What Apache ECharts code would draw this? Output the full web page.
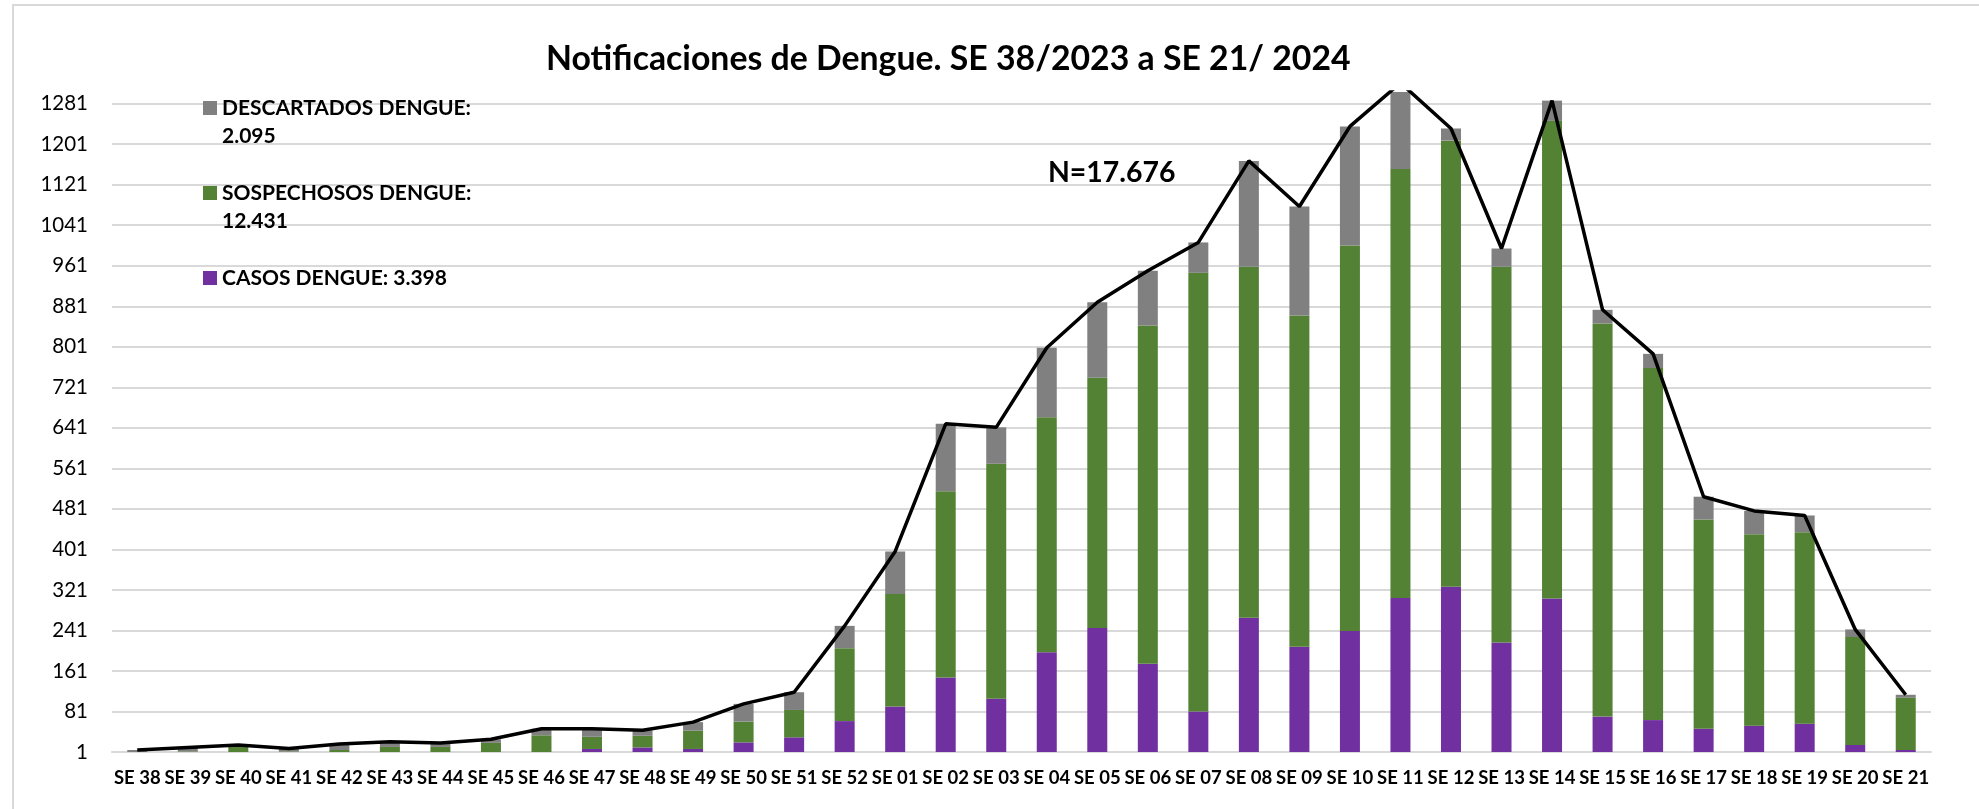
<!DOCTYPE html>
<html>
<head>
<meta charset="utf-8">
<script src="https://cdn.jsdelivr.net/npm/echarts@6/dist/echarts.min.js"></script>
<style>html,body{margin:0;padding:0;background:#fff}#c{width:1979px;height:809px}</style>
</head>
<body>
<div id="c"></div>
<script>
// ---- data ----
const categories = ['SE 38','SE 39','SE 40','SE 41','SE 42','SE 43','SE 44','SE 45','SE 46','SE 47','SE 48','SE 49','SE 50','SE 51','SE 52',
  'SE 01','SE 02','SE 03','SE 04','SE 05','SE 06','SE 07','SE 08','SE 09','SE 10','SE 11','SE 12','SE 13','SE 14','SE 15','SE 16','SE 17','SE 18','SE 19','SE 20','SE 21'];
const casos = [0,0,0,0,0,0,0,0,0,7,10,7,20,30,62,
  91,148,106,198,246,175,81,266,209,240,305,327,217,304,71,64,47,53,57,15,5];
const sospechosos = [1,2,11,2,5,11,11,19,34,24,23,36,41,54,144,
  222,368,464,464,494,668,866,693,654,761,847,881,742,943,776,695,413,378,378,213,103];
const descartados = [4,8,4,6,12,10,8,7,13,16,11,17,35,35,44,
  84,133,72,137,149,108,60,209,215,235,170,24,36,40,27,28,45,46,33,15,6];
const seriesNames = ['CASOS DENGUE','SOSPECHOSOS DENGUE','DESCARTADOS DENGUE'];
const legendTotals = {'CASOS DENGUE':'3.398','SOSPECHOSOS DENGUE':'12.431','DESCARTADOS DENGUE':'2.095'};
const titleText = 'Notificaciones de Dengue. SE 38/2023 a SE 21/ 2024';
const noteText = 'N=17.676';
const yMin = 1, yStep = 80, yMax = 1304;

const totals = categories.map((c, i) => casos[i] + sospechosos[i] + descartados[i]);

const FONT = 'Lato';
const chart = echarts.init(document.getElementById('c'), null, {renderer: 'canvas'});
chart.setOption({
  animation: false,
  backgroundColor: '#ffffff',
  title: [
    {text: titleText, left: 546, top: 42, padding: 0,
     textStyle: {fontFamily: FONT, fontWeight: 'bold', fontSize: 33.8, color: '#000'}},
    {text: noteText, left: 1048, top: 159, padding: 0,
     textStyle: {fontFamily: FONT, fontWeight: 'bold', fontSize: 28.4, color: '#000'}}
  ],
  legend: {
    data: ['DESCARTADOS DENGUE', 'SOSPECHOSOS DENGUE', 'CASOS DENGUE'],
    orient: 'vertical', left: 203, top: 66, padding: 0,
    itemWidth: 14, itemHeight: 14, itemGap: 1, icon: 'rect',
    selectedMode: false,
    formatter: function (name) {
      if (name === 'CASOS DENGUE') return ' \n' + name + ': ' + legendTotals[name] + '\n ';
      return ' \n' + name + ':\n' + legendTotals[name];
    },
    textStyle: {fontFamily: FONT, fontWeight: 'bold', fontSize: 21, lineHeight: 28, color: '#000'}
  },
  grid: {left: 112, right: 48, top: 92, bottom: 57},
  xAxis: {
    type: 'category', data: categories,
    axisTick: {show: false},
    axisLine: {lineStyle: {color: '#d9d9d9', width: 2}},
    axisLabel: {interval: 0, margin: 17, fontFamily: FONT, fontWeight: 'bold', fontSize: 18.5, color: '#000'}
  },
  yAxis: {
    type: 'value', min: yMin, max: yMax, interval: yStep,
    axisLine: {show: false}, axisTick: {show: false},
    axisLabel: {showMaxLabel: false, margin: 24, fontFamily: FONT, fontSize: 20.5, color: '#000',
      formatter: function (v) { return String(v); }},
    splitLine: {showMaxLine: false, lineStyle: {color: '#d9d9d9', width: 2}}
  },
  series: [
    {name: seriesNames[0], type: 'bar', stack: 'total', data: casos, barWidth: 20,
     itemStyle: {color: '#7030A0'}},
    {name: seriesNames[1], type: 'bar', stack: 'total', data: sospechosos, barWidth: 20,
     itemStyle: {color: '#548235'}},
    {name: seriesNames[2], type: 'bar', stack: 'total', data: descartados, barWidth: 20,
     itemStyle: {color: '#808080'}},
    {name: 'TOTAL', type: 'line', data: totals, symbol: 'none', z: 4,
     lineStyle: {color: '#000', width: 3.5}}
  ],
  graphic: [
    {type: 'rect', silent: true, z: -10,
     shape: {x: 13, y: 5, width: 2200, height: 1000},
     style: {fill: 'none', stroke: '#d9d9d9', lineWidth: 2}}
  ]
});
</script>
</body>
</html>
